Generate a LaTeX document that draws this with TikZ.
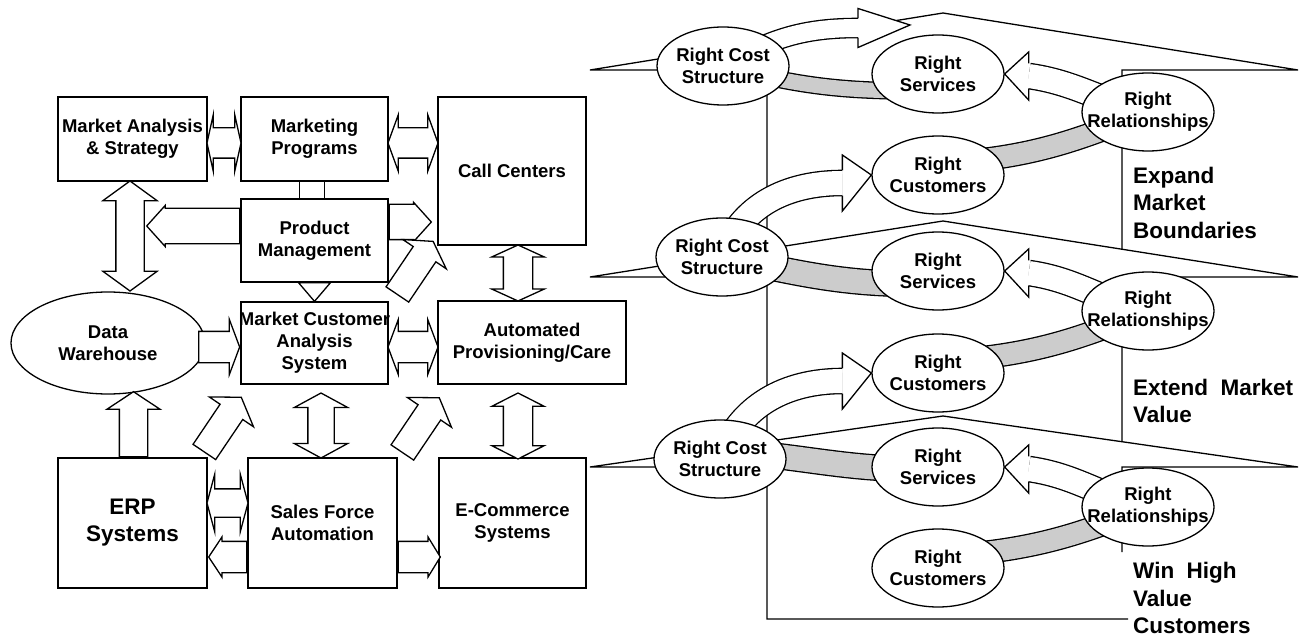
\documentclass[tikz,border=0pt]{standalone}
\usepackage{fontspec}
\setmainfont{Liberation Sans}
\setsansfont{Liberation Sans}
\usetikzlibrary{shapes.geometric,shapes.arrows,calc}
\pgfdeclarelayer{houses}
\pgfdeclarelayer{links}
\pgfsetlayers{houses,links,main}
\definecolor{bandgray}{gray}{0.8}
\tikzstyle{every node}=[align=center, font=\bfseries\fontsize{18.5}{22}\selectfont]
\tikzset{
  box/.style={draw, fill=white, inner sep=0pt},
  dblarrow/.style={double arrow, draw, fill=white, inner xsep=0pt, inner ysep=#1, double arrow head indent=0pt},
  onearrow/.style={single arrow, draw, fill=white, inner xsep=0pt, inner ysep=#1, single arrow head indent=0pt, anchor=tail},
  goal/.style={ellipse, draw, fill=white, line width=1.3pt, minimum width=132, minimum height=78, inner xsep=-20pt, inner ysep=0pt},
  band/.style={double=bandgray, double distance=#1, line width=1.3pt},
  wshaft/.style={double=white, double distance=#1, line width=1.3pt},
  whead/.style={draw, fill=white, line width=1.3pt},
  house/.style={draw, fill=white, line width=1.3pt},
  tag/.style={anchor=west, align=left, inner sep=0pt, font=\bfseries\fontsize{22.5}{27.5}\selectfont}
}
% head of a curved block arrow: tip, offset tip->base, head half width, shaft half width
\newcommand{\blockhead}[4]{%
  \filldraw[whead] ($(#1)+(#2)+(0,#4)$) -- ($(#1)+(#2)+(0,#3)$) -- (#1)
    -- ($(#1)+(#2)+(0,-#3)$) -- ($(#1)+(#2)+(0,-#4)$);}

\begin{document}
\begin{tikzpicture}[x=1pt, y=1pt, line width=1.3pt]
\useasboundingbox (0,0) rectangle (1309,-639);

% systems
\node[box, minimum width=149, minimum height=84] (mas) at (132.5,-139) {Market Analysis\\\& Strategy};
\node[box, minimum width=147, minimum height=84] (mp) at (314.5,-139) {Marketing\\Programs};
\node[box, minimum width=148, minimum height=148] (cc) at (512,-171) {Call Centers};
\node[box, minimum width=147, minimum height=83] (pm) at (314.5,-240.5) {Product\\Management};
\node[box, minimum width=147, minimum height=82, inner xsep=-3pt] (mcas) at (314.5,-343) {Market Customer\\Analysis\\System};
\node[box, minimum width=188, minimum height=83] (apc) at (532,-342.5) {Automated\\Provisioning/Care};
\node[ellipse, draw, fill=white, minimum width=194, minimum height=102, inner sep=0pt] (dw) at (108,-343) {Data\\Warehouse};
\node[box, minimum width=149, minimum height=130, font=\bfseries\fontsize{22.5}{27}\selectfont] (erp) at (132.5,-523) {ERP\\Systems};
\node[box, minimum width=149, minimum height=130] (sfa) at (322.5,-523) {Sales Force\\Automation};
\node[box, minimum width=147, minimum height=130] (ecs) at (512.5,-523) {E-Commerce\\Systems};

\draw[fill=white] ([xshift=-15pt]mp.south) rectangle ([xshift=10pt]pm.north);
\draw[fill=white] ([xshift=-16pt]pm.south) -- (mcas.north) -- ([xshift=16pt]pm.south) -- cycle;

% block arrows between systems
\node[dblarrow=14.5, minimum height=34, minimum width=55, double arrow head extend=13, double arrow tip angle=155] (masmp) at (224,-143) {};
\node[dblarrow=14.5, minimum height=50, minimum width=55, double arrow head extend=13, double arrow tip angle=140] (mpcc) at (413,-143) {};
\node[dblarrow=13.5, rotate=90, minimum height=110, minimum width=53, double arrow head extend=13, double arrow tip angle=108] (masdw) at (130,-236) {};
\node[onearrow=17, rotate=180, minimum height=93, minimum width=40, single arrow head extend=3, single arrow tip angle=96] (pmout) at ([yshift=14.5pt]pm.west) {};
\node[onearrow=17, minimum height=42, minimum width=38, single arrow head extend=2, single arrow tip angle=96] (pmcc) at ([yshift=18.5pt]pm.east) {};
\node[onearrow=13, rotate=56, minimum height=64, minimum width=51, single arrow head extend=12.5, single arrow tip angle=119] (pmcc2) at (397,-295) {};
\node[onearrow=15, minimum height=41, minimum width=54, single arrow head extend=12, single arrow tip angle=139] (dwmcas) at (198,-347) {};
\node[dblarrow=15, minimum height=50, minimum width=54, double arrow head extend=12, double arrow tip angle=139] (mcasapc) at (413,-347) {};
\node[dblarrow=14, rotate=90, minimum height=56, minimum width=51, double arrow head extend=11.5, double arrow tip angle=131] (ccapc) at (518,-273) {};
\node[dblarrow=14, rotate=90, minimum height=66, minimum width=51, double arrow head extend=11.5, double arrow tip angle=126] (apcecs) at (518,-426) {};
\node[dblarrow=12.5, rotate=90, minimum height=65, minimum width=52, double arrow head extend=13.5, double arrow tip angle=123] (mcassfa) at (321,-425.5) {};
\node[onearrow=13.5, rotate=90, minimum height=65, minimum width=52, single arrow head extend=12.5, single arrow tip angle=113] (erpdw) at ([xshift=1pt]erp.north) {};
\node[onearrow=13, rotate=56, minimum height=66, minimum width=52, single arrow head extend=13, single arrow tip angle=113] (erpmcas) at (204,-452.5) {};
\node[onearrow=13, rotate=56, minimum height=66, minimum width=52, single arrow head extend=13, single arrow tip angle=113] (sfaapc) at (402,-453) {};
\node[dblarrow=13.5, minimum height=41, minimum width=56, double arrow head extend=14.5, double arrow tip angle=150] (erpsfa) at (227.5,-503) {};
\node[onearrow=15, rotate=180, minimum height=38, minimum width=39, single arrow head extend=4.5, single arrow tip angle=113] (sfaerp) at ([yshift=-34pt]sfa.west) {};
\node[onearrow=15, minimum height=42, minimum width=39, single arrow head extend=4.5, single arrow tip angle=117] (sfaecs) at ([yshift=-34pt]sfa.east) {};

% the three houses
\begin{pgfonlayer}{houses}
\filldraw[house] (590,-70) -- (943,-13) -- (1298,-70) -- (1122,-70) -- (1122,-277) -- (767,-277) -- (767,-70) -- cycle;
\filldraw[house] (590,-277) -- (943,-221) -- (1298,-277) -- (1122,-277) -- (1122,-467) -- (767,-467) -- (767,-277) -- cycle;
\fill[white] (590,-467) -- (943,-416) -- (1298,-467) -- (1122,-467) -- (1122,-619) -- (767,-619) -- (767,-467) -- cycle;
\draw[line width=1.3pt] (1122,-552) -- (1122,-467) -- (1298,-467) -- (943,-416) -- (590,-467) -- (767,-467) -- (767,-619) -- (1128,-619);
\end{pgfonlayer}

% stage 1
\node[goal] (cost1) at (723,-66) {Right Cost\\Structure};
\node[goal] (serv1) at (938,-74) {Right\\Services};
\node[goal] (cust1) at (938,-175) {Right\\Customers};
\node[goal] (rel1) at (1148,-112) {Right\\Relationships};
\coordinate (up1) at (910,-25);

% stage 2
\node[goal] (cost2) at (722,-257) {Right Cost\\Structure};
\node[goal] (serv2) at (938,-271) {Right\\Services};
\node[goal] (cust2) at (938,-373) {Right\\Customers};
\node[goal] (rel2) at (1148,-311) {Right\\Relationships};

% stage 3
\node[goal] (cost3) at (720,-459) {Right Cost\\Structure};
\node[goal] (serv3) at (938,-467) {Right\\Services};
\node[goal] (cust3) at (938,-568) {Right\\Customers};
\node[goal] (rel3) at (1148,-507) {Right\\Relationships};

\begin{pgfonlayer}{links}
\draw[band=15pt] (cost1.center) to[out=-15,in=180] ($(serv1.center)+(-20,-17)$);
\draw[band=21pt] ($(cust1.center)+(22,13)$) to[out=5,in=202] (rel1.center);
\draw[wshaft=24pt] (rel1.center) to[out=168,in=-8] ($(serv1.east)+(24,-2)$);
\blockhead{serv1.east}{24,-2}{24}{12.6}
\draw[wshaft=18pt] (cost1.center) to[out=30,in=180] ($(up1)+(-52,-3)$);
\blockhead{up1}{-52,-3}{19.5}{9.6}

\draw[band=24pt] (cost2.center) to[out=-12,in=180] ($(serv2.center)+(-20,-13)$);
\draw[band=21pt] ($(cust2.center)+(22,13)$) to[out=5,in=202] (rel2.center);
\draw[wshaft=24pt] (rel2.center) to[out=168,in=-8] ($(serv2.east)+(24,-2)$);
\blockhead{serv2.east}{24,-2}{24}{12.6}
\draw[wshaft=24pt] (cost2.center) to[out=70,in=180] ($(cust1.west)+(-29,-8)$);
\blockhead{cust1.west}{-29,-8}{28}{12.6}

\draw[band=24pt] ($(cost3.center)+(0,8)$) to[out=-3,in=180] ($(serv3.center)+(-20,-2)$);
\draw[band=21pt] ($(cust3.center)+(22,13)$) to[out=5,in=202] (rel3.center);
\draw[wshaft=24pt] (rel3.center) to[out=168,in=-8] ($(serv3.east)+(24,-2)$);
\blockhead{serv3.east}{24,-2}{24}{12.6}
\draw[wshaft=24pt] (cost3.center) to[out=70,in=180] ($(cust2.west)+(-29,-8)$);
\blockhead{cust2.west}{-29,-8}{28}{12.6}
\end{pgfonlayer}

\node[tag] (expand) at (1133,-202.5) {Expand\\Market\\Boundaries};
\node[tag] (extend) at (1133,-401) {Extend~~Market\\Value};
\node[tag] (win) at (1133,-598) {Win~~High\\Value\\Customers};
\end{tikzpicture}
\end{document}
